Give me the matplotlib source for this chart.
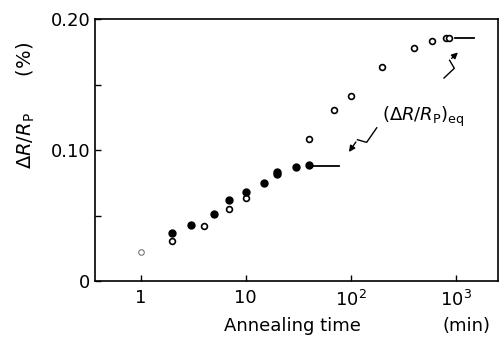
import matplotlib
matplotlib.use("Agg")
import matplotlib.pyplot as plt
import numpy as np

# Data (annealing time in min, dR/Rp in %)
open_t = [2, 4, 7, 10, 40, 70, 100, 200, 400, 600, 800, 870]
open_v = [0.0303, 0.0422, 0.0547, 0.0634, 0.1086, 0.1303, 0.1415, 0.1636, 0.1780, 0.1832, 0.1853, 0.1853]
filled_t = [2, 3, 5, 7, 10, 15, 20, 20, 30, 40]
filled_v = [0.0364, 0.0430, 0.0509, 0.0621, 0.0682, 0.0750, 0.0818, 0.0836, 0.0873, 0.0883]
faint_t = [1]
faint_v = [0.022]
eq_filled_t = [44, 77]
eq_filled_v = 0.0878
eq_open_t = [985, 1500]
eq_open_v = 0.1853

xticks = [1, 10, 100, 1000]
xticklabels = ["1", "10", "10$^2$", "10$^3$"]
yticks_major = [0, 0.10, 0.20]
yticklabels = ["0", "0.10", "0.20"]
yticks_minor = [0.05, 0.15]

fig = plt.figure(figsize=(5.0, 3.47), dpi=100)
ax = fig.add_axes([0.19, 0.19, 0.806, 0.755])
ax.set_xscale("log")
ax.set_xlim(0.367, 2530)
ax.set_ylim(0, 0.20)

ax.plot(open_t, open_v, "o", mfc="white", mec="black", mew=1.2, ms=4.2, ls="none")
ax.plot(filled_t, filled_v, "o", color="black", ms=5, ls="none")
ax.plot(faint_t, faint_v, "o", mfc="white", mec="#777777", mew=0.8, ms=4, ls="none")
ax.plot(eq_filled_t, [eq_filled_v]*2, color="black", lw=1.3)
ax.plot(eq_open_t, [eq_open_v]*2, color="black", lw=1.3)

ax.set_xticks(xticks)
ax.set_xticklabels(xticklabels)
ax.xaxis.set_minor_locator(matplotlib.ticker.NullLocator())
ax.set_yticks(yticks_major)
ax.set_yticklabels(yticklabels)
ax.set_yticks(yticks_minor, minor=True)
ax.tick_params(axis="both", which="both", direction="in", length=4, width=1.0, labelsize=13)
ax.tick_params(axis="y", which="minor", length=4)
ax.tick_params(axis="x", pad=6)
for s in ax.spines.values():
    s.set_linewidth(1.2)

# Label and wavy arrows
ax.text(200, 0.125, r"$(\Delta R/R_{\rm P})_{\rm eq}$", fontsize=13, ha="left", va="center")

def zig_arrow(p0, p1):
    x0, y0 = np.log10(p0[0]), p0[1]
    x1, y1 = np.log10(p1[0]), p1[1]
    xs = [x0, x0 + 0.45*(x1-x0) + 0.03, x0 + 0.55*(x1-x0) - 0.03, x1]
    ys = [y0, y0 + 0.45*(y1-y0) - 0.002, y0 + 0.55*(y1-y0) + 0.002, y1]
    ax.plot([10**v for v in xs[:3]], ys[:3], color="black", lw=1.0)
    ax.annotate("", xy=(10**xs[3], ys[3]), xytext=(10**xs[2], ys[2]),
                arrowprops=dict(arrowstyle="-|>", color="black", lw=1.0, mutation_scale=9))

zig_arrow((177, 0.117), (93, 0.0968))
zig_arrow((774, 0.155), (1098, 0.176))

ax.set_ylabel(r"$\Delta R/R_{\rm P}$      (%)", fontsize=14, labelpad=4)
ax.yaxis.set_label_coords(-0.145, 0.67)
fig.text(0.585, 0.06, "Annealing time", fontsize=13, ha="center", va="center")
fig.text(0.932, 0.06, "(min)", fontsize=13, ha="center", va="center")

fig.savefig("out.png", dpi=100)
